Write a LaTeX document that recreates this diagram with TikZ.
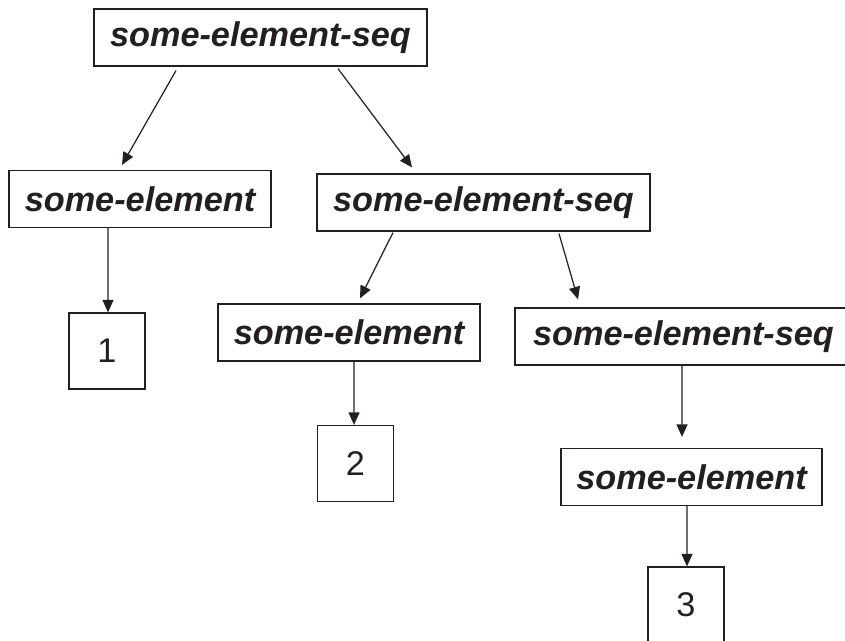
\documentclass[tikz,border=0pt]{standalone}
\usepackage{fontspec}
\setmainfont{Liberation Sans}
\usetikzlibrary{arrows.meta}
\definecolor{ink}{HTML}{231F20}
\begin{document}
\begin{tikzpicture}[x=0.02cm, y=-0.02cm]
\useasboundingbox (0,0) rectangle (845,641);
\begin{scope}[every node/.style={draw=ink, line width=0.7pt, text=ink, inner sep=0cm, font=\fontsize{19.5}{23}\selectfont\bfseries\itshape, minimum height=1.14cm}]
    \node[minimum width=6.66cm] (seq1) at (260.5,37.5) {some-element-seq};
    \node[minimum width=5.24cm] (elem1) at (140,199) {some-element};
    \node[minimum width=6.66cm] (seq2) at (483.5,202.5) {some-element-seq};
    \node[minimum width=5.24cm] (elem2) at (349,332.5) {some-element};
    \node[minimum width=6.74cm] (seq3) at (683.5,336.5) {some-element-seq};
    \node[minimum width=5.22cm] (elem3) at (691.5,477) {some-element};
\end{scope}
\begin{scope}[every node/.style={draw=ink, line width=0.7pt, text=ink, inner sep=0cm, font=\fontsize{19.5}{23}\selectfont, minimum size=1.52cm}]
    \node (num1) at (107,351) {1};
    \node (num2) at (355.5,463.5) {2};
    \node (num3) at (686,605) {3};
\end{scope}
\begin{scope}[every edge/.style={draw=ink, line width=0.7pt, -{Triangle[length=2.5mm, width=2.2mm]}}]
    \path ([xshift=-1.69cm, yshift=-0.08cm]seq1.south) edge ([xshift=-0.36cm, yshift=0.1cm]elem1.north);
    \path ([xshift=1.55cm, yshift=-0.04cm]seq1.south) edge ([xshift=-1.43cm, yshift=0.12cm]seq2.north);
    \path ([xshift=-0.64cm]elem1.south) edge ([xshift=0.02cm]num1.north);
    \path ([xshift=-1.81cm, yshift=-0.02cm]seq2.south) edge ([xshift=0.22cm, yshift=0.1cm]elem2.north);
    \path ([xshift=1.51cm, yshift=-0.04cm]seq2.south) edge ([xshift=-2.11cm, yshift=0.16cm]seq3.north);
    \path ([xshift=0.1cm]elem2.south) edge ([xshift=-0.03cm]num2.north);
    \path ([xshift=-0.03cm]seq3.south) edge ([xshift=-0.19cm, yshift=0.22cm]elem3.north);
    \path ([xshift=-0.09cm]elem3.south) edge ([xshift=0.02cm]num3.north);
\end{scope}
\end{tikzpicture}
\end{document}
